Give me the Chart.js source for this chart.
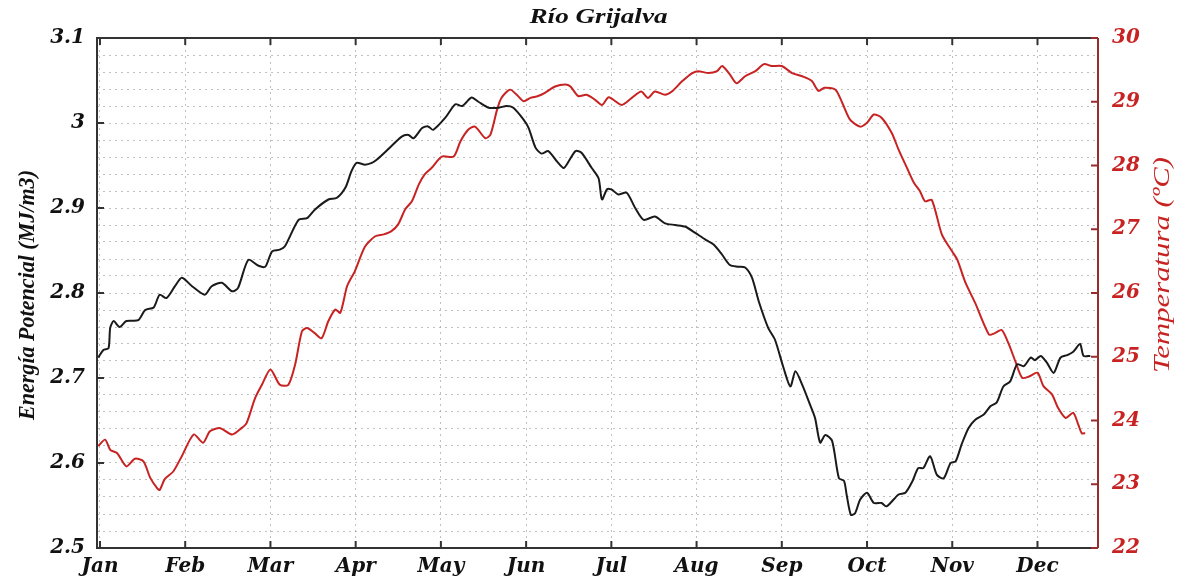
<!DOCTYPE html>
<html lang="es">
<head>
    <meta charset="UTF-8">
    <title>Río Grijalva</title>
    <script src="https://cdn.jsdelivr.net/npm/chart.js"></script>
    <style>
        body { margin: 0; background: #fff; }
        #contenedor { width: 1185px; height: 576px; }
    </style>
</head>
<body>
<div id="contenedor">
    <canvas id="grafico"></canvas>
</div>
<script>
    // Meses del eje x (una unidad = un mes)
    const meses = ['Jan', 'Feb', 'Mar', 'Apr', 'May', 'Jun', 'Jul', 'Aug', 'Sep', 'Oct', 'Nov', 'Dec'];

    // Energía potencial (MJ/m3), posición en meses
    const mesesEnergia = [
        -0.02, 0.04, 0.10, 0.12, 0.16, 0.23, 0.31, 0.45, 0.53, 0.63, 0.70, 0.78, 0.88, 0.96,
        1.08, 1.23, 1.31, 1.43, 1.55, 1.62, 1.74, 1.86, 1.94,
        2.02, 2.11, 2.17, 2.33, 2.43, 2.52, 2.68, 2.78, 2.88, 2.95,
        3.01, 3.11, 3.19, 3.25, 3.38, 3.54, 3.62, 3.68, 3.78, 3.85, 3.91,
        4.05, 4.17, 4.25, 4.36, 4.44, 4.56, 4.68, 4.77, 4.85, 4.97,
        5.03, 5.11, 5.18, 5.26, 5.36, 5.44, 5.50, 5.58, 5.65, 5.77, 5.85, 5.89, 5.95,
        6.00, 6.08, 6.18, 6.28, 6.38, 6.51, 6.63, 6.75, 6.87, 6.98,
        7.10, 7.20, 7.30, 7.39, 7.49, 7.57, 7.65, 7.73, 7.84, 7.92,
        8.02, 8.10, 8.16, 8.24, 8.33, 8.39, 8.45, 8.51, 8.59, 8.67, 8.73, 8.76, 8.81, 8.86, 8.92,
        9.00, 9.08, 9.17, 9.23, 9.37, 9.45, 9.53, 9.60, 9.66, 9.74, 9.82, 9.90, 9.98,
        10.04, 10.11, 10.19, 10.27, 10.37, 10.45, 10.52, 10.60, 10.68, 10.76, 10.84, 10.92, 10.97,
        11.04, 11.11, 11.19, 11.27, 11.35, 11.42, 11.50, 11.54, 11.62
    ];
    const energia = [
        2.724, 2.733, 2.735, 2.759, 2.767, 2.760, 2.767, 2.768, 2.780, 2.783, 2.798, 2.794, 2.808, 2.818,
        2.808, 2.798, 2.808, 2.812, 2.802, 2.806, 2.839, 2.832, 2.831,
        2.849, 2.851, 2.855, 2.886, 2.888, 2.898, 2.910, 2.912, 2.924, 2.943,
        2.953, 2.951, 2.953, 2.957, 2.969, 2.984, 2.986, 2.982, 2.994, 2.996, 2.992,
        3.006, 3.022, 3.020, 3.030, 3.025, 3.018, 3.018, 3.020, 3.018, 3.004,
        2.994, 2.971, 2.964, 2.967, 2.955, 2.947, 2.955, 2.967, 2.965, 2.947, 2.935, 2.910, 2.922,
        2.922, 2.916, 2.918, 2.900, 2.886, 2.890, 2.882, 2.880, 2.878, 2.871,
        2.863, 2.857, 2.845, 2.833, 2.831, 2.830, 2.818, 2.790, 2.759, 2.745,
        2.712, 2.690, 2.708, 2.692, 2.669, 2.653, 2.624, 2.633, 2.626, 2.582, 2.579, 2.563, 2.539, 2.541, 2.557,
        2.565, 2.553, 2.553, 2.549, 2.563, 2.565, 2.578, 2.594, 2.594, 2.608, 2.586, 2.582, 2.600,
        2.602, 2.622, 2.641, 2.651, 2.657, 2.667, 2.671, 2.690, 2.696, 2.716, 2.714, 2.724, 2.721,
        2.726, 2.718, 2.706, 2.724, 2.727, 2.731, 2.740, 2.726, 2.726
    ];

    // Temperatura (°C), posición en meses
    const mesesTemp = [
        -0.02, 0.06, 0.12, 0.20, 0.31, 0.41, 0.51, 0.59, 0.67, 0.70, 0.76, 0.86, 0.96,
        1.10, 1.21, 1.29, 1.41, 1.55, 1.66, 1.72, 1.82, 1.90,
        2.00, 2.11, 2.21, 2.29, 2.37, 2.43, 2.52, 2.60, 2.68, 2.76, 2.82, 2.90, 2.99,
        3.11, 3.23, 3.33, 3.42, 3.50, 3.58, 3.66, 3.74, 3.81, 3.89,
        4.01, 4.15, 4.23, 4.32, 4.40, 4.52, 4.58, 4.66, 4.71, 4.81, 4.89, 4.97,
        5.05, 5.14, 5.22, 5.34, 5.46, 5.52, 5.61, 5.71, 5.81, 5.89, 5.97,
        6.12, 6.24, 6.35, 6.43, 6.51, 6.63, 6.71, 6.83, 6.95,
        7.02, 7.14, 7.24, 7.30, 7.39, 7.47, 7.57, 7.69, 7.79, 7.88,
        8.00, 8.12, 8.24, 8.35, 8.43, 8.50, 8.63, 8.71, 8.80, 8.92,
        9.00, 9.08, 9.17, 9.29, 9.37, 9.47, 9.55, 9.62, 9.68, 9.76, 9.88,
        10.00, 10.06, 10.15, 10.27, 10.43, 10.50, 10.58, 10.66, 10.74, 10.82, 10.90,
        11.00, 11.07, 11.17, 11.24, 11.33, 11.42, 11.48, 11.52, 11.56
    ];
    const temperatura = [
        23.60, 23.70, 23.54, 23.49, 23.28, 23.40, 23.36, 23.10, 22.94, 22.91, 23.08, 23.20, 23.44,
        23.78, 23.65, 23.83, 23.88, 23.78, 23.88, 23.96, 24.35, 24.56,
        24.80, 24.56, 24.56, 24.88, 25.40, 25.45, 25.37, 25.29, 25.56, 25.74, 25.69, 26.11, 26.34,
        26.73, 26.89, 26.92, 26.97, 27.08, 27.31, 27.44, 27.70, 27.86, 27.96,
        28.14, 28.14, 28.38, 28.56, 28.61, 28.43, 28.48, 28.88, 29.06, 29.19, 29.11, 29.01,
        29.06, 29.09, 29.14, 29.24, 29.27, 29.24, 29.09, 29.11, 29.03, 28.95, 29.07,
        28.95, 29.06, 29.16, 29.06, 29.16, 29.11, 29.16, 29.32, 29.45,
        29.48, 29.45, 29.48, 29.56, 29.43, 29.29, 29.40, 29.48, 29.59, 29.56,
        29.56, 29.45, 29.40, 29.33, 29.17, 29.22, 29.19, 28.98, 28.72, 28.61,
        28.67, 28.80, 28.75, 28.51, 28.25, 27.96, 27.73, 27.60, 27.44, 27.46, 26.91,
        26.65, 26.52, 26.18, 25.84, 25.35, 25.37, 25.42, 25.21, 24.93, 24.67, 24.69,
        24.75, 24.54, 24.41, 24.20, 24.04, 24.12, 23.93, 23.80, 23.80
    ];

    const ROJO = 'rgb(200, 35, 35)';
    const MARCO = '#333';
    const REJILLA = 'rgba(150, 150, 150, 0.6)';
    const fuenteTicks = { family: 'DejaVu Serif', size: 20, weight: 'bold', style: 'italic' };

    // texto estirado para ocupar el largo indicado (rotado si hace falta)
    function textoAjustado(ctx, texto, x, y, largo, fuente, color, rotado) {
        ctx.save();
        ctx.font = fuente;
        ctx.fillStyle = color;
        ctx.textAlign = 'center';
        ctx.textBaseline = 'middle';
        const w = ctx.measureText(texto).width;
        ctx.translate(x, y);
        if (rotado) ctx.rotate(-Math.PI / 2);
        ctx.scale(largo / w, 1);
        ctx.fillText(texto, 0, 0);
        ctx.restore();
    }

    // marco del área de trazado, marcas hacia dentro y títulos
    const marcoPlugin = {
        id: 'marco',
        afterDatasetsDraw(chart) {
            const ctx = chart.ctx;
            const a = chart.chartArea;
            const sx = chart.scales.x, sy = chart.scales.y, sy2 = chart.scales.y2;
            ctx.save();
            ctx.lineWidth = 2;
            ctx.strokeStyle = MARCO;
            ctx.beginPath();
            ctx.moveTo(a.right, a.top); ctx.lineTo(a.left, a.top);
            ctx.lineTo(a.left, a.bottom); ctx.lineTo(a.right, a.bottom);
            ctx.stroke();
            // marcas de meses (abajo y arriba)
            for (let i = 0; i < meses.length; i++) {
                const px = sx.getPixelForValue(i);
                ctx.beginPath();
                ctx.moveTo(px, a.bottom); ctx.lineTo(px, a.bottom - 7);
                ctx.moveTo(px, a.top); ctx.lineTo(px, a.top + 7);
                ctx.stroke();
            }
            // marcas del eje izquierdo
            for (let v = 25; v <= 31; v++) {
                const py = sy.getPixelForValue(v / 10);
                ctx.beginPath();
                ctx.moveTo(a.left, py); ctx.lineTo(a.left + 7, py);
                ctx.stroke();
            }
            // eje derecho en rojo
            ctx.strokeStyle = 'rgb(150, 45, 45)';
            ctx.beginPath();
            ctx.moveTo(a.right, a.top); ctx.lineTo(a.right, a.bottom);
            ctx.stroke();
            for (let t = 22; t <= 30; t++) {
                const py = sy2.getPixelForValue(t);
                ctx.beginPath();
                ctx.moveTo(a.right, py); ctx.lineTo(a.right - 7, py);
                ctx.stroke();
            }
            ctx.restore();

            const centro = (a.left + a.right) / 2;
            textoAjustado(ctx, 'Río Grijalva', centro + 1, 18, 138, 'italic bold 21px "Liberation Serif"', '#111', false);
            textoAjustado(ctx, 'Energía Potencial (MJ/m3)', 28, 295, 250, 'italic bold 23px "Liberation Serif"', '#111', true);
            textoAjustado(ctx, 'Temperatura (ºC)', 1163, 265, 216, 'italic 23px "Liberation Serif"', ROJO, true);
        }
    };

    const ctx = document.getElementById('grafico').getContext('2d');
    new Chart(ctx, {
        type: 'line',
        data: {
            datasets: [
                {
                    label: 'Energía Potencial',
                    data: mesesEnergia.map((m, i) => ({ x: m, y: energia[i] })),
                    borderColor: '#1a1a1a',
                    borderWidth: 2,
                    pointRadius: 0,
                    tension: 0.25,
                    yAxisID: 'y'
                },
                {
                    label: 'Temperatura',
                    data: mesesTemp.map((m, i) => ({ x: m, y: temperatura[i] })),
                    borderColor: ROJO,
                    borderWidth: 2,
                    pointRadius: 0,
                    tension: 0.25,
                    yAxisID: 'y2'
                }
            ]
        },
        options: {
            responsive: true,
            maintainAspectRatio: false,
            animation: false,
            layout: { padding: { top: 38 } },
            plugins: {
                legend: { display: false },
                title: { display: false },
                tooltip: { enabled: false }
            },
            scales: {
                x: {
                    type: 'linear',
                    min: -0.035,
                    max: 11.71,
                    afterFit(scale) { scale.height = 28; },
                    border: { display: false, dash: [2, 4] },
                    grid: { color: REJILLA, drawTicks: false },
                    ticks: {
                        stepSize: 1,
                        includeBounds: false,
                        autoSkip: false,
                        maxRotation: 0,
                        padding: 7,
                        color: '#111',
                        font: fuenteTicks,
                        callback: v => Number.isInteger(v) ? meses[v] : ''
                    }
                },
                y: {
                    position: 'left',
                    min: 2.5,
                    max: 3.1,
                    afterFit(scale) { scale.width = 97; },
                    border: { display: false, dash: [2, 4] },
                    grid: { color: REJILLA, drawTicks: false },
                    ticks: {
                        stepSize: 0.02,
                        autoSkip: false,
                        padding: 12,
                        color: '#111',
                        font: fuenteTicks,
                        callback: v => {
                            const d = Math.round(v * 100);
                            return d % 10 === 0 ? String(d / 100) : '';
                        }
                    }
                },
                y2: {
                    position: 'right',
                    min: 22,
                    max: 30,
                    afterFit(scale) { scale.width = 87; },
                    border: { display: false },
                    grid: { display: false, drawTicks: false },
                    ticks: {
                        stepSize: 1,
                        padding: 14,
                        color: ROJO,
                        font: fuenteTicks
                    }
                }
            }
        },
        plugins: [marcoPlugin]
    });
</script>
</body>
</html>
